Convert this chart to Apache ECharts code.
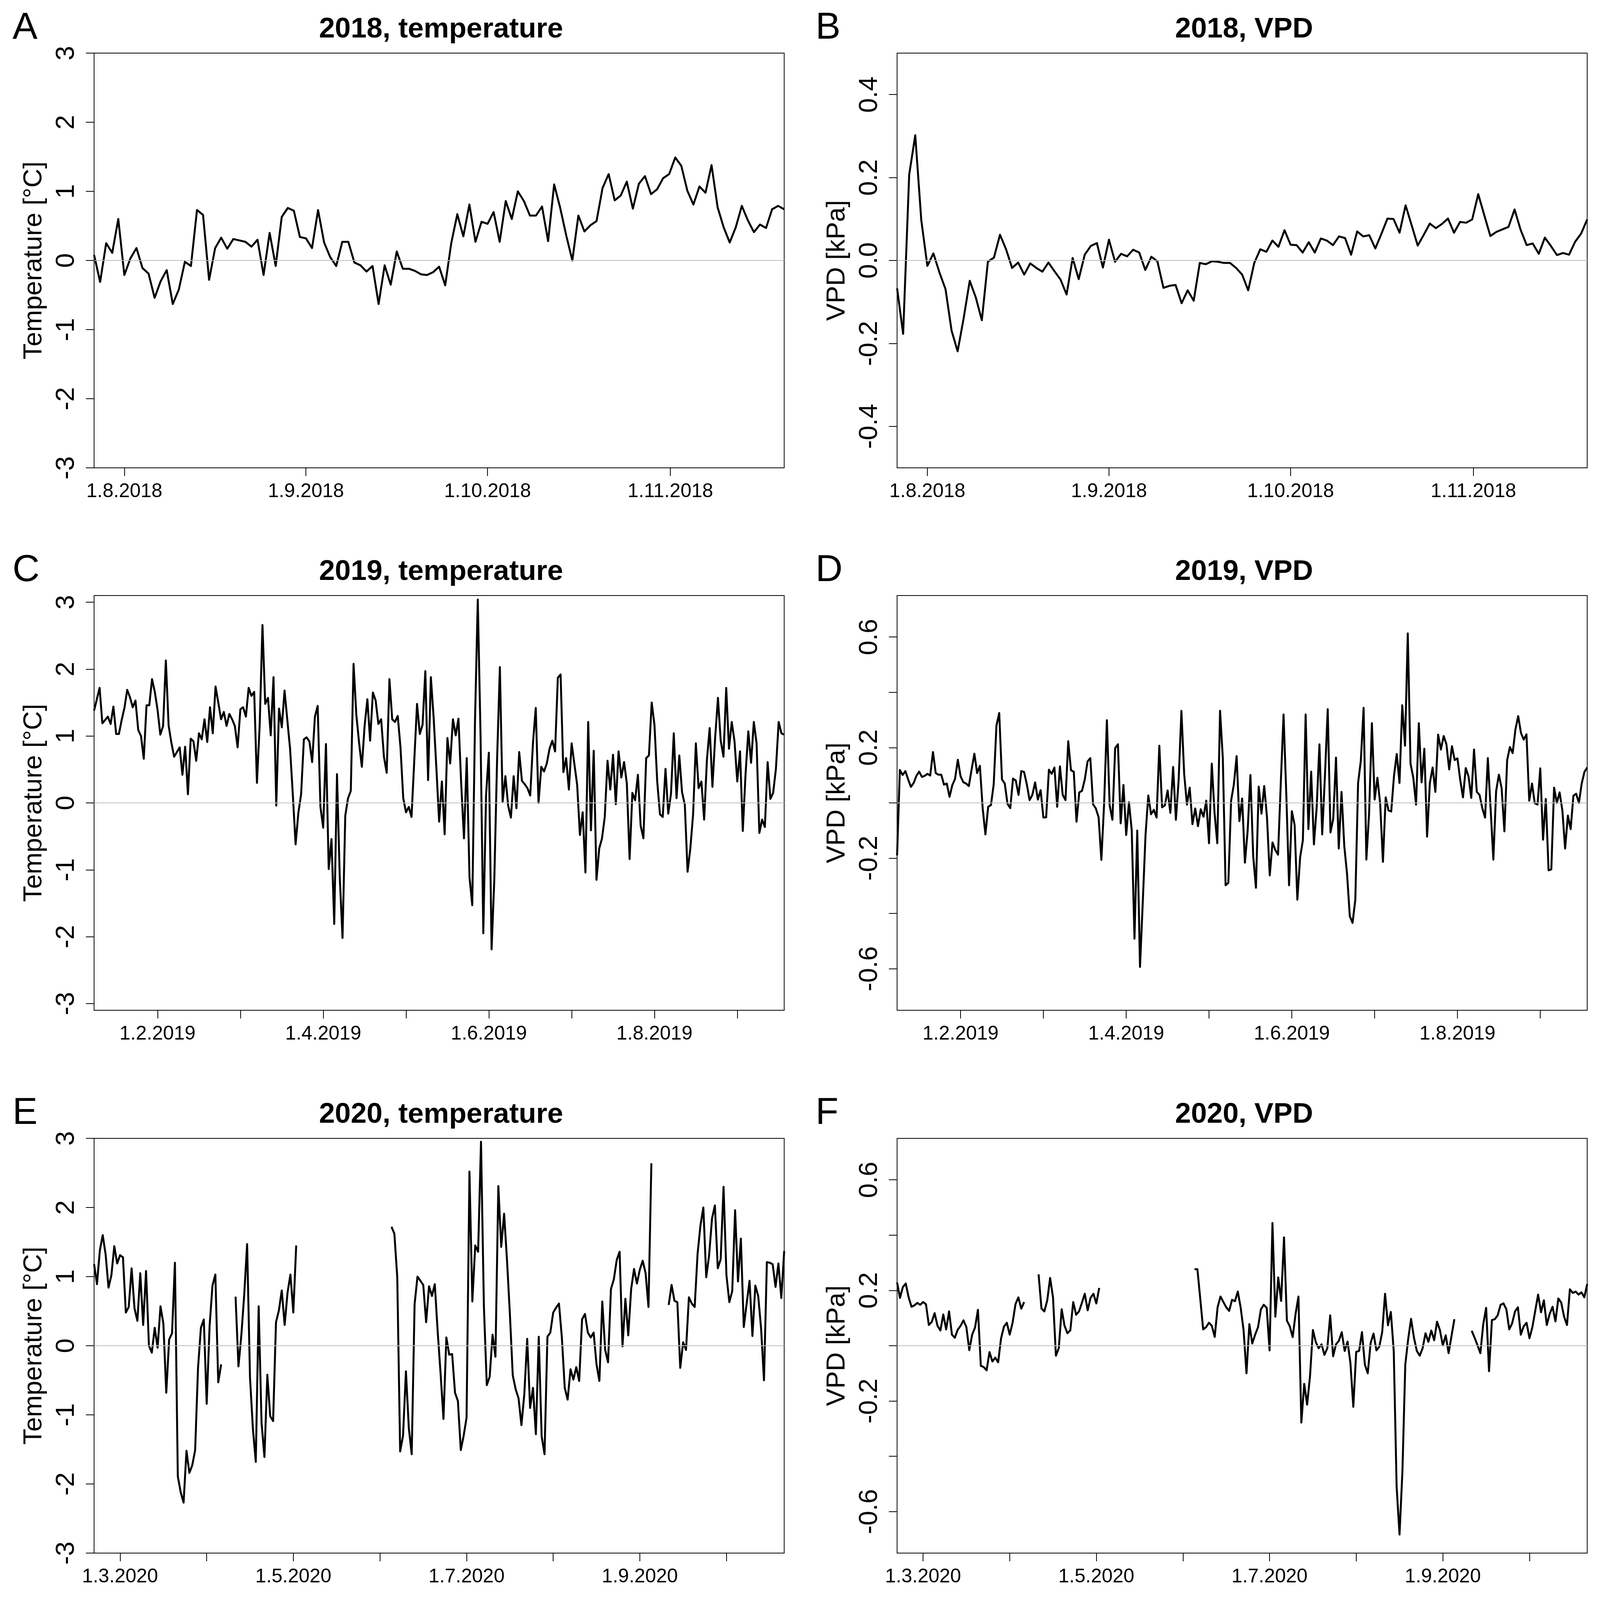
<!doctype html>
<html>
<head>
	<meta charset="utf-8">
	<title>temperature / VPD 2018-2020</title>
	<style>
		html, body { margin:0; padding:0; background:#fff; overflow:hidden; }
		#main { width:100vw; height:100vh; }
	</style>
</head>
<body>
<div id="main"></div>
<script src="https://cdn.jsdelivr.net/npm/echarts@6/dist/echarts.min.js"></script>
<script>
	// daily values, one per day, null = no data
	var temp2018 = [0.08, -0.31, 0.25, 0.11, 0.60, -0.21, 0.03, 0.18, -0.11, -0.19,
		-0.54, -0.30, -0.14, -0.63, -0.42, -0.02, -0.08, 0.73, 0.66, -0.28,
		0.18, 0.33, 0.17, 0.31, 0.29, 0.27, 0.20, 0.30, -0.21, 0.40,
		-0.08, 0.63, 0.76, 0.72, 0.34, 0.32, 0.18, 0.73, 0.26, 0.05,
		-0.08, 0.27, 0.27, -0.03, -0.07, -0.16, -0.08, -0.63, -0.07, -0.35,
		0.13, -0.12, -0.12, -0.15, -0.20, -0.21, -0.17, -0.09, -0.36, 0.25,
		0.67, 0.35, 0.81, 0.27, 0.56, 0.53, 0.70, 0.27, 0.86, 0.60,
		1.00, 0.86, 0.65, 0.65, 0.78, 0.28, 1.10, 0.76, 0.36, 0.00,
		0.65, 0.42, 0.51, 0.57, 1.05, 1.25, 0.87, 0.94, 1.14, 0.75,
		1.11, 1.22, 0.96, 1.03, 1.19, 1.25, 1.49, 1.37, 1.01, 0.81,
		1.07, 0.98, 1.38, 0.77, 0.48, 0.26, 0.48, 0.79, 0.58, 0.41,
		0.52, 0.47, 0.74, 0.79, 0.74];
	var vpd2018 = [-0.067, -0.177, 0.207, 0.302, 0.097, -0.013, 0.017, -0.029, -0.069, -0.169,
		-0.219, -0.139, -0.049, -0.089, -0.144, -0.003, 0.007, 0.062, 0.027, -0.018,
		-0.005, -0.034, -0.007, -0.018, -0.027, -0.005, -0.026, -0.046, -0.082, 0.006,
		-0.045, 0.014, 0.035, 0.042, -0.017, 0.050, -0.003, 0.016, 0.010, 0.026,
		0.019, -0.023, 0.009, -0.002, -0.066, -0.061, -0.059, -0.103, -0.072, -0.097,
		-0.006, -0.009, -0.002, -0.003, -0.006, -0.006, -0.018, -0.034, -0.072, -0.006,
		0.027, 0.021, 0.048, 0.033, 0.073, 0.038, 0.037, 0.019, 0.044, 0.019,
		0.053, 0.048, 0.037, 0.058, 0.054, 0.014, 0.070, 0.058, 0.061, 0.029,
		0.064, 0.101, 0.100, 0.067, 0.133, 0.085, 0.036, 0.062, 0.089, 0.078,
		0.088, 0.101, 0.067, 0.093, 0.091, 0.099, 0.160, 0.109, 0.059, 0.069,
		0.075, 0.081, 0.123, 0.074, 0.037, 0.041, 0.016, 0.055, 0.035, 0.013,
		0.018, 0.014, 0.045, 0.065, 0.099];
	var temp2019 = [1.38, 1.55, 1.72, 1.19, 1.24, 1.29, 1.18, 1.44, 1.03, 1.03,
		1.24, 1.42, 1.69, 1.58, 1.43, 1.53, 1.09, 1.00, 0.66, 1.46,
		1.46, 1.85, 1.66, 1.39, 1.02, 1.15, 2.13, 1.16, 0.90, 0.69,
		0.76, 0.83, 0.42, 0.84, 0.13, 0.96, 0.92, 0.63, 1.04, 0.95,
		1.25, 0.91, 1.43, 1.04, 1.74, 1.50, 1.25, 1.36, 1.15, 1.33,
		1.25, 1.15, 0.83, 1.40, 1.43, 1.29, 1.72, 1.60, 1.66, 0.30,
		1.17, 2.66, 1.48, 1.57, 1.01, 1.88, -0.04, 1.41, 1.13, 1.68,
		1.24, 0.81, 0.12, -0.62, -0.15, 0.13, 0.95, 0.98, 0.92, 0.61,
		1.29, 1.45, -0.06, -0.37, 0.88, -0.99, -0.54, -1.81, 0.43, -1.11,
		-2.02, -0.19, 0.07, 0.18, 2.08, 1.32, 0.90, 0.54, 1.15, 1.55,
		0.93, 1.65, 1.53, 1.18, 1.25, 0.69, 0.45, 1.85, 1.25, 1.21,
		1.30, 0.83, 0.07, -0.14, -0.06, -0.21, 0.64, 1.48, 1.03, 1.17,
		1.97, 0.34, 1.88, 1.28, 0.52, -0.28,
		0.32, -0.47, 0.97, 0.59, 1.25, 1.01, 1.26, 0.28, -0.53, 0.67,
		-1.11, -1.53, 1.24, 3.04, 1.01, -1.95, 0.12, 0.75, -2.19, -1.13,
		0.66, 2.03, 0.02, 0.40, -0.04, -0.22, 0.40, -0.08, 0.76, 0.33,
		0.28, 0.22, 0.11, 0.90, 1.42, 0.00, 0.54, 0.47, 0.59, 0.81,
		0.93, 0.77, 1.87, 1.92, 0.46, 0.67, 0.20, 0.89, 0.58, 0.27,
		-0.48, -0.14, -1.04, 1.21, -0.41, 0.78, -1.15, -0.68, -0.53, -0.21,
		0.63, 0.20, 0.72, -0.02, 0.77, 0.38, 0.61, 0.29, -0.84, 0.15,
		0.04, 0.42, -0.34, -0.53, 0.67, 0.71, 1.50, 1.17, 0.32, -0.17,
		-0.21, 0.51, -0.16, 0.14, 1.04, 0.07, 0.71, 0.16, -0.03, -1.03,
		-0.68, -0.17, 0.89, 0.22, 0.32, -0.25, 0.64, 1.12, 0.24, 0.98,
		1.57, 0.93, 0.69, 1.72, 0.81, 1.21, 0.92, 0.32, 0.77, -0.42,
		0.43, 1.07, 0.60, 1.21, 0.89, -0.45, -0.25, -0.36, 0.61, 0.06,
		0.15, 0.51, 1.21, 1.04, 1.02];
	var vpd2019 = [-0.190, 0.119, 0.101, 0.115, 0.085, 0.058, 0.072, 0.098, 0.113, 0.094,
		0.098, 0.105, 0.099, 0.184, 0.108, 0.102, 0.102, 0.066, 0.070, 0.022,
		0.064, 0.087, 0.156, 0.096, 0.075, 0.070, 0.061, 0.121, 0.178, 0.108,
		0.134, -0.019, -0.114, -0.014, -0.008, 0.067, 0.280, 0.325, 0.085, 0.070,
		-0.003, -0.019, 0.088, 0.081, 0.029, 0.115, 0.112, 0.067, 0.010, 0.029,
		0.074, 0.012, 0.046, -0.053, -0.052, 0.120, 0.105, 0.128, -0.014, 0.132,
		0.029, 0.010, 0.223, 0.118, 0.113, -0.068, 0.038, 0.044, 0.085, 0.150,
		0.162, -0.005, -0.020, -0.052, -0.206, -0.003, 0.299, -0.009, -0.061, 0.198,
		0.212, -0.074, 0.065, -0.116, 0.002, -0.098, -0.491, -0.100, -0.593, -0.359,
		-0.116, 0.027, -0.041, -0.025, -0.053, 0.207, -0.016, -0.009, 0.045, -0.036,
		0.130, -0.061, 0.083, 0.333, 0.105, -0.006, 0.055, -0.077, -0.020, -0.084,
		-0.023, -0.050, 0.008, -0.146, 0.142, -0.036, -0.146, 0.333, 0.161, -0.298,
		-0.289, 0.008, 0.067, 0.169, -0.066, 0.016, -0.216,
		-0.100, 0.101, -0.192, -0.307, 0.059, -0.039, 0.061, -0.052, -0.262, -0.143,
		-0.170, -0.187, 0.072, 0.320, 0.029, -0.298, -0.030, -0.079, -0.350, -0.197,
		-0.135, 0.320, -0.095, 0.113, -0.150, -0.016, 0.212, -0.114, 0.099, 0.339,
		-0.107, -0.057, 0.164, -0.165, 0.040, -0.156, -0.257, -0.410, -0.434, -0.350,
		0.072, 0.153, 0.344, -0.205, -0.036, 0.288, 0.012, 0.091, -0.003, -0.213,
		0.020, -0.027, -0.031, 0.097, 0.177, 0.072, 0.353, 0.207, 0.613, 0.142,
		0.091, -0.006, 0.288, 0.074, 0.196, -0.122, 0.072, 0.128, 0.040, 0.247,
		0.193, 0.242, 0.212, 0.121, 0.205, 0.155, 0.161, 0.083, 0.020, 0.126,
		0.096, 0.018, 0.193, 0.040, 0.029, -0.019, -0.053, 0.162, -0.020, -0.205,
		0.042, 0.102, 0.053, -0.103, 0.155, 0.202, 0.180, 0.266, 0.314, 0.253,
		0.229, 0.248, 0.008, 0.070, -0.001, -0.006, 0.125, -0.133, 0.014, -0.244,
		-0.240, 0.055, 0.000, 0.038, -0.027, -0.165, -0.046, -0.095, 0.026, 0.033,
		0.000, 0.070, 0.112, 0.128];
	var temp2020 = [1.18, 0.89, 1.38, 1.60, 1.32, 0.84, 1.02, 1.44, 1.19, 1.31,
		1.28, 0.48, 0.56, 1.12, 0.54, 0.36, 1.05, 0.30, 1.08, 0.00,
		-0.10, 0.26, -0.03, 0.57, 0.32, -0.68, 0.09, 0.18, 1.20, -1.89,
		-2.12, -2.27, -1.52, -1.84, -1.73, -1.51, -0.32, 0.26, 0.38, -0.84,
		0.28, 0.87, 1.03, -0.53, -0.27,
		null, null, null, null,
		0.71, -0.30, 0.15, 0.74, 1.47, -0.46, -1.20, -1.68, 0.57, -1.12,
		-1.61, -0.42, -1.02, -1.09, 0.34, 0.51, 0.80, 0.30, 0.77, 1.03,
		0.48, 1.45,
		null, null, null, null, null, null, null, null, null, null,
		null, null, null, null, null, null, null, null, null, null,
		null, null, null, null, null, null, null, null, null, null,
		null, null,
		1.72, 1.62, 0.99, -1.53, -1.30, -0.37, -1.19, -1.57, 0.60, 1.00,
		0.94, 0.88, 0.34, 0.86, 0.72, 0.89, 0.20, -0.40,
		-1.06, 0.12, -0.13, -0.12, -0.68, -0.80, -1.51, -1.30, -1.04, 2.52,
		0.64, 1.45, 1.36, 2.95, 0.57, -0.57, -0.45, 0.16, -0.16, 2.31,
		1.43, 1.91, 1.24, 0.46, -0.43, -0.63, -0.76, -1.15, -0.70, 0.10,
		-0.90, -0.61, -1.28, 0.13, -1.31, -1.57, 0.13, 0.19, 0.48, 0.55,
		0.61, 0.12, -0.61, -0.78, -0.34, -0.49, -0.31, -0.51, 0.38, 0.46,
		0.19, 0.12, 0.19, -0.27, -0.51, 0.64, -0.06, -0.24, 0.82, 0.96,
		1.24, 1.36, -0.01, 0.68, 0.15, 0.82, 1.11, 0.90, 1.10, 1.23,
		1.05, 0.56, 2.64,
		null, null, null, null, null,
		0.59, 0.88, 0.65, 0.63, -0.32, 0.05, -0.06, 0.70, 0.61, 0.56,
		1.33, 1.74, 2.00, 0.99, 1.31, 1.84, 2.03, 1.12, 1.25, 2.30,
		1.02, 0.63, 0.79, 1.96, 0.93, 1.55, 0.27, 0.61, 0.94, 0.14,
		0.87, 0.72, 0.25, -0.50, 1.21, 1.20, 1.18, 0.85, 1.19, 0.69,
		1.37];
	var vpd2020 = [0.229, 0.173, 0.212, 0.225, 0.175, 0.141, 0.146, 0.155, 0.148, 0.158,
		0.150, 0.075, 0.086, 0.118, 0.072, 0.055, 0.113, 0.059, 0.124, 0.040,
		0.029, 0.058, 0.072, 0.092, 0.067, -0.016, 0.040, 0.066, 0.130, -0.073,
		-0.077, -0.089, -0.023, -0.057, -0.043, -0.060, 0.026, 0.069, 0.083, 0.040,
		0.083, 0.150, 0.175, 0.134, 0.158,
		null, null, null, null,
		0.258, 0.135, 0.124, 0.164, 0.245, 0.175, -0.036, -0.009, 0.132, 0.072,
		0.045, 0.056, 0.158, 0.112, 0.124, 0.155, 0.188, 0.128, 0.173, 0.188,
		0.153, 0.209,
		null, null, null, null, null, null, null, null, null, null,
		null, null, null, null, null, null, null, null, null, null,
		null, null, null, null, null, null, null, null, null, null,
		null, null,
		0.277, 0.277, 0.169, 0.059, 0.067, 0.083, 0.072, 0.032, 0.139, 0.178,
		0.158, 0.139, 0.126, 0.166, 0.161, 0.196, 0.137, 0.056,
		-0.100, 0.078, 0.008, 0.040, 0.067, 0.132, 0.148, 0.137, -0.017, 0.444,
		0.105, 0.247, 0.162, 0.392, 0.091, 0.070, 0.031, 0.115, 0.178, -0.278,
		-0.138, -0.213, -0.111, 0.057, 0.013, -0.009, 0.005, -0.033, -0.009, 0.110,
		-0.038, 0.005, 0.018, 0.049, -0.019, 0.015, -0.063, -0.221, -0.022, -0.019,
		0.049, -0.068, -0.100, 0.010, 0.044, -0.017, -0.003, 0.049, 0.188, 0.074,
		0.122, -0.019, -0.510, -0.683, -0.456, -0.068, 0.024, 0.097, 0.029, -0.019,
		-0.036, -0.009, 0.045, 0.014, 0.055, 0.020, 0.087, 0.056, 0.001, 0.038,
		-0.027, 0.035, 0.096,
		null, null, null, null, null,
		0.054, 0.029, 0.002, -0.027, 0.078, 0.137, -0.092, 0.093, 0.096, 0.110,
		0.148, 0.153, 0.132, 0.059, 0.081, 0.124, 0.139, 0.040, 0.070, 0.083,
		0.027, 0.067, 0.126, 0.185, 0.121, 0.164, 0.075, 0.115, 0.141, 0.088,
		0.171, 0.156, 0.105, 0.075, 0.204, 0.191, 0.196, 0.185, 0.193, 0.175,
		0.223];

	// month ticks along the day index, '' = tick without label
	var ticks2018 = [5, 35, 65, 95.2];
	var labels2018 = ['1.8.2018', '1.9.2018', '1.10.2018', '1.11.2018'];
	var ticks2019 = [23, 53, 83, 113, 143, 173, 203, 233];
	var labels2019 = ['1.2.2019', '', '1.4.2019', '', '1.6.2019', '', '1.8.2019', ''];
	var ticks2020 = [9, 39, 69, 99, 129, 159, 189, 219];
	var labels2020 = ['1.3.2020', '', '1.5.2020', '', '1.7.2020', '', '1.9.2020', ''];

	var tempTicks = [-3, -2, -1, 0, 1, 2, 3];
	var vpdTicks2018 = [-0.4, -0.2, 0, 0.2, 0.4];
	var vpdTicks = [-0.6, -0.4, -0.2, 0, 0.2, 0.4, 0.6];
	var vpdLabels = [-0.6, -0.2, 0.2, 0.6];

	var FONT = 'Liberation Sans, Arial, sans-serif';

	// layout is laid out for a 4252 x 4092 page, scaled to the real window
	var el = document.getElementById('main');
	var sx = (el.clientWidth || 4252) / 4252, sy = (el.clientHeight || 4092) / 4092;
	var s = Math.min(sx, sy);
	function X(v) { return v * sx; }
	function Y(v) { return v * sy; }
	function F(v) { return Math.round(v * s); }

	var colLeft = [250, 2384];
	var rowTop = [136, 1525, 2915];
	var W = 1834, H = 1062;

	var panels = [
		{ letter: 'A', title: '2018, temperature', data: temp2018, ticks: ticks2018, labels: labels2018,
		  ymin: -3, ymax: 3, yTicks: tempTicks, yLabels: tempTicks, yName: 'Temperature [°C]', dec: 0 },
		{ letter: 'B', title: '2018, VPD', data: vpd2018, ticks: ticks2018, labels: labels2018,
		  ymin: -0.5, ymax: 0.5, yTicks: vpdTicks2018, yLabels: vpdTicks2018, yName: 'VPD [kPa]', dec: 1 },
		{ letter: 'C', title: '2019, temperature', data: temp2019, ticks: ticks2019, labels: labels2019,
		  ymin: -3.1, ymax: 3.1, yTicks: tempTicks, yLabels: tempTicks, yName: 'Temperature [°C]', dec: 0 },
		{ letter: 'D', title: '2019, VPD', data: vpd2019, ticks: ticks2019, labels: labels2019,
		  ymin: -0.75, ymax: 0.75, yTicks: vpdTicks, yLabels: vpdLabels, yName: 'VPD [kPa]', dec: 1 },
		{ letter: 'E', title: '2020, temperature', data: temp2020, ticks: ticks2020, labels: labels2020,
		  ymin: -3, ymax: 3, yTicks: tempTicks, yLabels: tempTicks, yName: 'Temperature [°C]', dec: 0 },
		{ letter: 'F', title: '2020, VPD', data: vpd2020, ticks: ticks2020, labels: labels2020,
		  ymin: -0.75, ymax: 0.75, yTicks: vpdTicks, yLabels: vpdLabels, yName: 'VPD [kPa]', dec: 1 }
	];

	var option = { backgroundColor: '#fff', animation: false, title: [], grid: [], xAxis: [], yAxis: [], series: [] };

	panels.forEach(function (p, i) {
		var left = colLeft[i % 2], top = rowTop[Math.floor(i / 2)];
		var labelled = p.ticks.filter(function (t, k) { return p.labels[k] !== ''; });

		option.title.push({
			text: p.title, left: X(left + W / 2), top: Y(top - 102), textAlign: 'center',
			textStyle: { fontFamily: FONT, fontSize: F(76), fontWeight: 'bold', color: '#000', lineHeight: F(76) }
		});
		option.title.push({
			text: p.letter, left: X(left - 222), top: Y(top - 116),
			textStyle: { fontFamily: FONT, fontSize: F(100), fontWeight: 'normal', color: '#000', lineHeight: F(100) }
		});
		option.grid.push({ left: X(left), top: Y(top), width: X(W), height: Y(H), show: true, borderColor: '#000', borderWidth: 2 });

		option.xAxis.push({
			gridIndex: i, type: 'value', min: 0, max: p.data.length - 1,
			axisLine: { show: false, onZero: false }, splitLine: { show: false },
			axisTick: { show: true, customValues: p.ticks, length: F(22), lineStyle: { color: '#000', width: 2 } },
			axisLabel: {
				customValues: labelled, margin: F(37), fontSize: F(52), fontFamily: FONT, color: '#000',
				formatter: function (v) {
					var k = p.ticks.indexOf(v);
					return k < 0 ? '' : p.labels[k];
				}
			}
		});
		option.yAxis.push({
			gridIndex: i, type: 'value', min: p.ymin, max: p.ymax,
			axisLine: { show: false, onZero: false }, splitLine: { show: false },
			axisTick: { show: true, customValues: p.yTicks, length: F(22), lineStyle: { color: '#000', width: 2 } },
			axisLabel: {
				customValues: p.yLabels, rotate: 90, margin: F(38), fontSize: F(70), fontFamily: FONT, color: '#000',
				formatter: function (v) { return v.toFixed(p.dec); }
			},
			name: p.yName, nameLocation: 'middle', nameRotate: 90, nameGap: F(125),
			nameTextStyle: { fontFamily: FONT, fontSize: F(70), color: '#000' }
		});
		option.series.push({
			type: 'line', xAxisIndex: i, yAxisIndex: i,
			data: p.data.map(function (v, k) { return [k, v]; }),
			showSymbol: false, symbol: 'none', connectNulls: false, clip: true,
			lineStyle: { color: '#000', width: 5, join: 'round' },
			markLine: {
				silent: true, symbol: ['none', 'none'], label: { show: false },
				lineStyle: { color: '#bebebe', width: 2, type: 'solid' },
				data: [{ yAxis: 0 }]
			}
		});
	});

	var myChart = echarts.init(el);
	myChart.setOption(option);
</script>
</body>
</html>
